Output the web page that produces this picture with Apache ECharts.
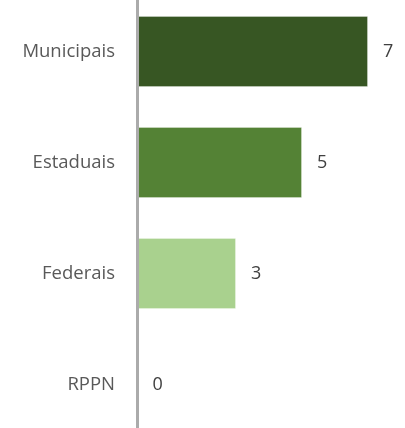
<!DOCTYPE html>
<html>
<head>
<meta charset="utf-8">
<script src="https://cdn.jsdelivr.net/npm/echarts@6/dist/echarts.min.js"></script>
<style>
  html, body { margin: 0; padding: 0; background: #fff; }
  #chart { width: 405px; height: 428px; }
</style>
</head>
<body>
<div id="chart"></div>
<script>
const categories = ['Municipais', 'Estaduais', 'Federais', 'RPPN'];
const values = [7, 5, 3, 0];
const barColors = ['#375623', '#548235', '#A9D18E', '#A9D18E'];

const chart = echarts.init(document.getElementById('chart'));

const option = {
    backgroundColor: '#fff',
    animation: false,
    grid: { left: 137, right: 4, top: -4, bottom: -12, containLabel: false, outerBoundsMode: 'none' },
    xAxis: {
        type: 'value',
        min: 0,
        max: 8,
        show: false
    },
    yAxis: {
        type: 'category',
        inverse: true,
        z: 5,
        data: categories,
        axisTick: { show: false },
        axisLine: { show: true, lineStyle: { color: '#ABABAB', width: 3 } },
        axisLabel: {
            color: '#595959',
            fontFamily: 'Open Sans',
            fontSize: 18.5,
            margin: 22
        }
    },
    series: [{
        type: 'bar',
        data: values.map((v, i) => ({
            value: v,
            itemStyle: { color: barColors[i], borderColor: 'rgba(255,255,255,0.3)', borderWidth: 1 }
        })),
        barCategoryGap: '36%',
        label: {
            show: true,
            position: 'right',
            distance: 15,
            color: '#404040',
            fontFamily: 'Open Sans',
            fontSize: 18
        }
    }]
};

chart.setOption(option);
window.addEventListener('resize', () => chart.resize());
</script>
</body>
</html>
